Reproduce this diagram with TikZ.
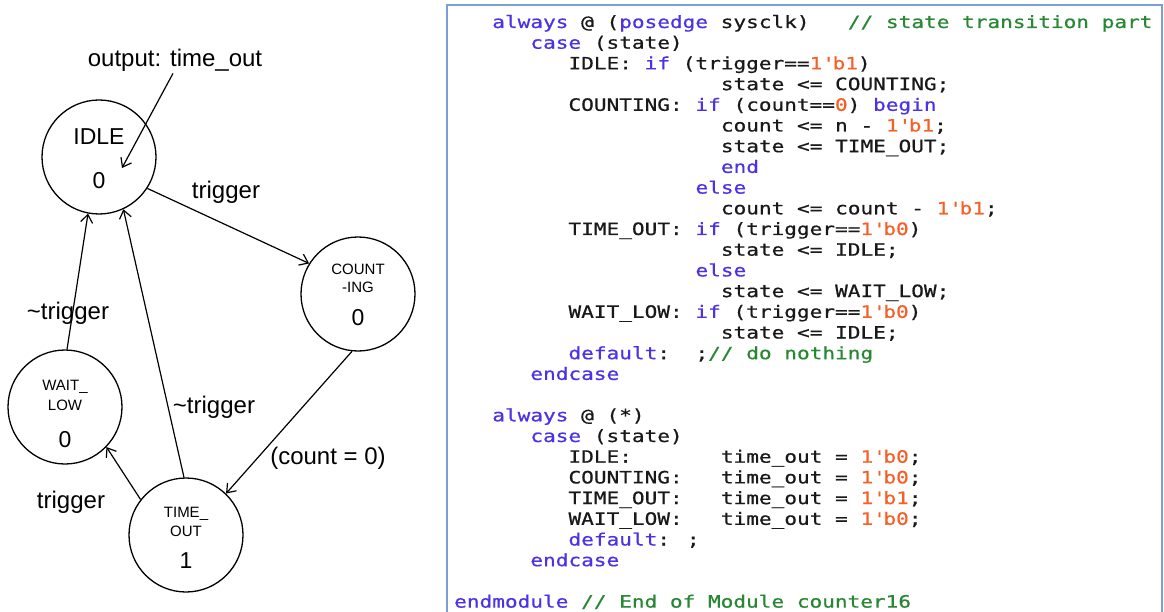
\documentclass[tikz,border=0pt]{standalone}
\usepackage{fontspec}
\setmainfont{Liberation Sans}
\newfontfamily\codefont[FakeStretch=1.24,FakeBold=0.7]{DejaVu Sans Mono}
\usetikzlibrary{arrows.meta,positioning}
\definecolor{vkeycol}{RGB}{75,50,230}
\definecolor{vnumcol}{RGB}{245,95,40}
\definecolor{vcomcol}{RGB}{40,135,50}
\definecolor{codecol}{RGB}{25,25,25}
\definecolor{panelcol}{RGB}{125,158,212}

\newcommand{\vkey}[1]{\textcolor{vkeycol}{#1}}
\newcommand{\vnum}[1]{\textcolor{vnumcol}{#1}}
\newcommand{\vcom}[1]{\textcolor{vcomcol}{#1}}
\newcommand{\tq}{\textquotesingle}
% riga di codice: colonna, riga, testo
\newcommand{\riga}[3]{\node[codice] (r#2c#1) at ({454+#1*12.7},{28+#2*20.7}) {#3};}

\tikzset{
  stato/.style={circle, draw, line width=1.3pt, minimum size=114pt, inner sep=0pt},
  nome/.style={anchor=base, inner sep=0pt, font=\fontsize{23}{26}\selectfont},
  nomepiccolo/.style={anchor=base, inner sep=0pt, font=\fontsize{15}{17}\selectfont},
  etichetta/.style={inner sep=2pt, font=\fontsize{24}{28}\selectfont},
  freccia/.style={line width=1.2pt, -{Straight Barb[length=8pt,width=12pt]}},
  codice/.style={anchor=base west, inner sep=0pt, text=codecol, font=\codefont\fontsize{17}{20}\selectfont},
  cornice/.style={draw=panelcol, line width=1.6pt}
}

\begin{document}
\begin{tikzpicture}[x=1pt,y=-1pt]
				\useasboundingbox (0,0) rectangle (1164,612);
				
				% Stati
				\node[stato] (idle) at (99,157) {};
				\node[nome] (idlename) at (99,145) {IDLE};
				\node[nome] (idleout) at (99,189) {0};
				
				\node[stato] (counting) at (358,294) {};
				\node[nomepiccolo] (countname) at (358,275) {COUNT};
				\node[nomepiccolo] (countname2) at (358,292) {-ING};
				\node[nome] (countout) at (358,325) {0};
				
				\node[stato] (waitlow) at (65,407) {};
				\node[nomepiccolo] (waitname) at (65,390) {WAIT\_};
				\node[nomepiccolo] (waitname2) at (65,410) {LOW};
				\node[nome] (waitout) at (65,447) {0};
				
				\node[stato] (timeout) at (186,535) {};
				\node[nomepiccolo] (timename) at (186,517) {TIME\_};
				\node[nomepiccolo] (timename2) at (186,536) {OUT};
				\node[nome] (timeout1) at (186,568) {1};
				
				% Etichette
				\node[etichetta] (outlbl) at (175,60) {output: time\_out};
				\coordinate (outtip) at (122,168);
				\node[etichetta] (lbltrig) at (226,192) {trigger};
				\node[etichetta] (lblntrig) at (68,313) {\textasciitilde trigger};
				\node[etichetta] (lblntrig2) at (214,407) {\textasciitilde trigger};
				\node[etichetta] (lblcount) at (328,458) {(count = 0)};
				\node[etichetta] (lbltrig2) at (71,502) {trigger};
				
				% Transizioni
				\draw[freccia] ([xshift=-2pt]outlbl.south) -- (outtip);
				\draw[freccia] (idle.-33) -- (counting.148);
				\draw[freccia] (counting.-96) -- (timeout.46);
				\draw[freccia] (timeout.142) -- (waitlow.-44);
				\draw[freccia] (waitlow.88) -- (idle.-101);
				\draw[freccia] (timeout.92) -- (idle.-65);
				
				% Codice Verilog
				\draw[cornice] (447,620) -- (447,5) -- (1162,5) -- (1162,620);
				\riga{3}{0}{\vkey{always} @ (\vkey{posedge} sysclk)}
				\riga{31}{0}{\vcom{// state transition part}}
				\riga{6}{1}{\vkey{case} (state)}
				\riga{9}{2}{IDLE: \vkey{if} (trigger==\vnum{1\tq b1})}
				\riga{21}{3}{state <= COUNTING;}
				\riga{9}{4}{COUNTING: \vkey{if} (count==\vnum{0}) \vkey{begin}}
				\riga{21}{5}{count <= n - \vnum{1\tq b1};}
				\riga{21}{6}{state <= TIME\_OUT;}
				\riga{21}{7}{\vkey{end}}
				\riga{19}{8}{\vkey{else}}
				\riga{21}{9}{count <= count - \vnum{1\tq b1};}
				\riga{9}{10}{TIME\_OUT: \vkey{if} (trigger==\vnum{1\tq b0})}
				\riga{21}{11}{state <= IDLE;}
				\riga{19}{12}{\vkey{else}}
				\riga{21}{13}{state <= WAIT\_LOW;}
				\riga{9}{14}{WAIT\_LOW: \vkey{if} (trigger==\vnum{1\tq b0})}
				\riga{21}{15}{state <= IDLE;}
				\riga{9}{16}{\vkey{default}:}
				\riga{19}{16}{;\vcom{// do nothing}}
				\riga{6}{17}{\vkey{endcase}}
				
				\riga{3}{19}{\vkey{always} @ (*)}
				\riga{6}{20}{\vkey{case} (state)}
				\riga{9}{21}{IDLE:}
				\riga{21}{21}{time\_out = \vnum{1\tq b0};}
				\riga{9}{22}{COUNTING:}
				\riga{21}{22}{time\_out = \vnum{1\tq b0};}
				\riga{9}{23}{TIME\_OUT:}
				\riga{21}{23}{time\_out = \vnum{1\tq b1};}
				\riga{9}{24}{WAIT\_LOW:}
				\riga{21}{24}{time\_out = \vnum{1\tq b0};}
				\riga{9}{25}{\vkey{default}: ;}
				\riga{6}{26}{\vkey{endcase}}
				
				\riga{0}{28}{\vkey{endmodule} \vcom{// End of Module counter16}}
			\end{tikzpicture}
\end{document}
